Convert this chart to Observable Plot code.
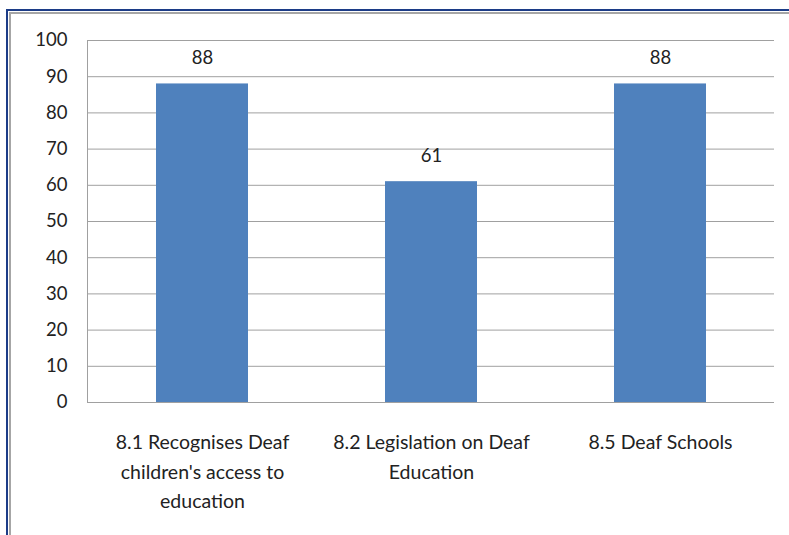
<!DOCTYPE html>
<html>
<head>
<meta charset="utf-8">
<script src="https://cdn.jsdelivr.net/npm/d3@7"></script>
<script src="https://cdn.jsdelivr.net/npm/@observablehq/plot@0.6"></script>
<style>
  html, body { margin: 0; padding: 0; background: #fff; }
  #wrap { position: relative; width: 789px; height: 535px; overflow: hidden; }
  #chart { position: absolute; left: 0; top: 0; }
  .frame-outer { position: absolute; left: 6px; top: 9px; width: 900px; height: 700px;
    border-top: 2px solid #1c3c87; border-left: 2px solid #1c3c87; pointer-events: none; }
  .frame-inner { position: absolute; left: 9px; top: 12px; width: 900px; height: 700px;
    border-top: 2px solid #a6a6a6; border-left: 2px solid #a6a6a6; pointer-events: none; }
</style>
</head>
<body>
<div id="wrap">
  <div id="chart"></div>
  <div class="frame-outer"></div>
  <div class="frame-inner"></div>
</div>
<script>
const categories = [
  "8.1 Recognises Deaf\nchildren's access to\neducation",
  "8.2 Legislation on Deaf\nEducation",
  "8.5 Deaf Schools"
];
const values = [88, 61, 88];
const yTicks = [0, 10, 20, 30, 40, 50, 60, 70, 80, 90, 100];

const data = categories.map((c, i) => ({category: c, value: values[i]}));
const font = "Lato, 'Open Sans', sans-serif";

const chart = Plot.plot({
  width: 789,
  height: 535,
  marginLeft: 87,
  marginRight: 15,
  marginTop: 40,
  marginBottom: 133,
  style: {fontFamily: font, fontSize: "18px", color: "#222", background: "transparent"},
  x: {domain: categories, paddingInner: 0.6, paddingOuter: 0.3, label: null},
  y: {domain: [0, 100], label: null},
  marks: [
    Plot.ruleY(yTicks, {stroke: "#a0a0a0", strokeWidth: 1, strokeOpacity: 1}),
    Plot.frame({anchor: "left", stroke: "#a0a0a0", strokeOpacity: 1}),
    Plot.barY(data, {x: "category", y: "value", fill: "#4f81bd"}),
    Plot.text(data, {x: "category", y: "value", text: d => String(d.value), dy: -26,
      fontSize: 18.5, fill: "#222"}),
    Plot.axisY({ticks: yTicks, tickSize: 0, tickPadding: 20, fontSize: 18.5, label: null}),
    Plot.axisX({tickSize: 0, tickPadding: 26, fontSize: 19.5, lineHeight: 1.5, label: null})
  ]
});
document.getElementById("chart").appendChild(chart);
</script>
</body>
</html>
